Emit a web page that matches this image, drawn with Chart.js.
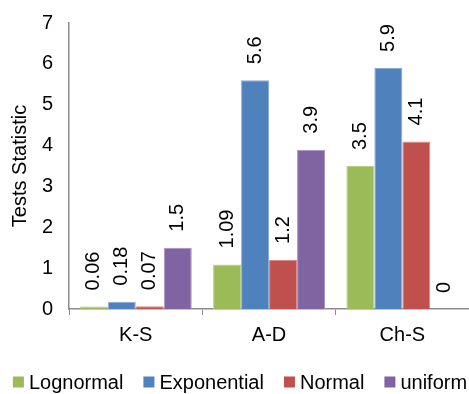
<!DOCTYPE html>
<html>
<head>
<meta charset="utf-8">
<script src="https://cdn.jsdelivr.net/npm/chart.js@4/dist/chart.umd.min.js"></script>
<style>
  html, body { margin: 0; padding: 0; background: #fff; }
  #wrap { width: 469px; height: 394px; position: relative; }
</style>
</head>
<body>
<div id="wrap"><canvas id="stats-chart"></canvas></div>
<script>
/* ===================== DATA ===================== */

const CATEGORIES = ["K-S", "A-D", "Ch-S"];

const LOGNORMAL = [0.06, 1.09, 3.5];
const EXPONENTIAL = [0.18, 5.6, 5.9];
const NORMAL = [0.07, 1.2, 4.1];
const UNIFORM = [1.5, 3.9, 0];

const Y_TICKS = [0, 1, 2, 3, 4, 5, 6, 7];

/* ===================== STYLE ===================== */

const FONT = "'Liberation Sans', Arial, sans-serif";
const AXIS_GRAY = "#8c8c8c";

// rotated value labels above every bar
const barValueLabels = {
  id: "barValueLabels",
  afterDatasetsDraw(chart) {
    const ctx = chart.ctx;
    ctx.save();
    ctx.font = "20px " + FONT;
    ctx.fillStyle = "#000";
    ctx.textAlign = "left";
    ctx.textBaseline = "middle";
    chart.data.datasets.forEach((ds, i) => {
      const meta = chart.getDatasetMeta(i);
      meta.data.forEach((bar, j) => {
        ctx.save();
        ctx.translate(bar.x, bar.y - 16);
        ctx.rotate(-Math.PI / 2);
        ctx.fillText(String(ds.data[j]), 0, 0);
        ctx.restore();
      });
    });
    ctx.restore();
  },
};

// one-row legend, tighter than the built-in one
const rowLegend = {
  id: "rowLegend",
  afterDraw(chart) {
    const ctx = chart.ctx;
    const box = 11, gap = 5, itemGap = 20;
    ctx.save();
    ctx.font = "20px " + FONT;
    const items = chart.data.datasets.map((ds) => ({
      text: ds.label,
      color: ds.backgroundColor,
      w: box + gap + ctx.measureText(ds.label).width,
    }));
    const total = items.reduce((s, it) => s + it.w, 0) + itemGap * (items.length - 1);
    let x = 240 - total / 2;
    const y = 382;
    ctx.textBaseline = "middle";
    ctx.textAlign = "left";
    items.forEach((it) => {
      ctx.fillStyle = it.color;
      ctx.fillRect(x, y - box / 2, box, box);
      ctx.fillStyle = "#000";
      ctx.fillText(it.text, x + box + gap, y + 1);
      x += it.w + itemGap;
    });
    ctx.restore();
  },
};

function series(label, data, color, edge) {
  return {
    label,
    data,
    backgroundColor: color,
    borderColor: edge,
    borderWidth: 1,
    categoryPercentage: 0.84,
    barPercentage: 1,
  };
}

new Chart(document.getElementById("stats-chart"), {
  type: "bar",
  data: {
    labels: CATEGORIES,
    datasets: [
      series("Lognormal", LOGNORMAL, "#9bbb59", "#b7d08a"),
      series("Exponential", EXPONENTIAL, "#4f81bd", "#8aacd6"),
      series("Normal", NORMAL, "#c0504d", "#d68a88"),
      series("uniform", UNIFORM, "#8064a2", "#a993c2"),
    ],
  },
  options: {
    responsive: true,
    maintainAspectRatio: false,
    animation: false,
    layout: { padding: { top: 0, right: 0, left: 8, bottom: 39 } },
    plugins: {
      tooltip: { enabled: false },
      legend: { display: false },
    },
    scales: {
      x: {
        offset: true,
        grid: {
          display: true,
          offset: true,
          drawOnChartArea: false,
          drawTicks: true,
          tickLength: 6,
          color: AXIS_GRAY,
        },
        border: { display: true, color: AXIS_GRAY, width: 1.5 },
        ticks: {
          font: { family: FONT, size: 20 },
          color: "#000",
          padding: 8,
        },
      },
      y: {
        min: 0,
        max: 7,
        afterBuildTicks: (axis) => {
          axis.ticks = Y_TICKS.map((v) => ({ value: v }));
        },
        grid: { display: false, drawTicks: false },
        border: { display: true, color: AXIS_GRAY, width: 1.5 },
        ticks: {
          font: { family: FONT, size: 20, lineHeight: 0.7 },
          color: "#000",
          padding: 16,
        },
        title: {
          display: true,
          text: "Tests Statistic",
          font: { family: FONT, size: 20 },
          color: "#000",
          padding: { top: 0, bottom: -6 },
        },
      },
    },
  },
  plugins: [barValueLabels, rowLegend],
});
</script>
</body>
</html>
